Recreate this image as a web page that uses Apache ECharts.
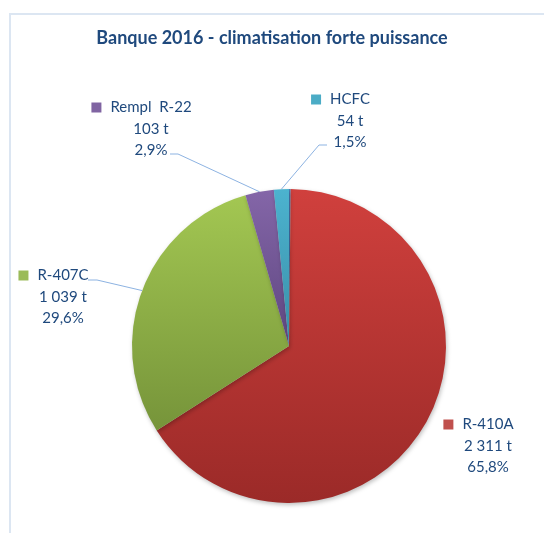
<!DOCTYPE html>
<html>
<head>
<meta charset="utf-8">
<script src="https://cdn.jsdelivr.net/npm/echarts@6/dist/echarts.min.js"></script>
<style>
  html, body { margin: 0; padding: 0; background: #fff; }
  #chart { width: 544px; height: 533px; }
</style>
</head>
<body>
<div id="chart"></div>
<script>
// data (tonnes); first item is the tiny unlabeled sliver
const categories = ["Autre", "R-410A", "R-407C", "Rempl  R-22", "HCFC"];
const tonnes = [6, 2311, 1039, 103, 54];
const showLabel = [false, true, true, true, true];

// Excel-like gradient colours (top, bottom) and key colour
const topColors = ["#4f81bd", "#d0403d", "#a3c752", "#8466a8", "#4cb3cf"];
const bottomColors = ["#3a659a", "#9b2a28", "#76943a", "#5e4680", "#3a8ea8"];
const keyColors = ["#4f81bd", "#c0504d", "#9bbb59", "#8064a2", "#4bacc6"];

// label placement (text centre, middle line) and leader line bend/end
const labelSpots = [
    null,
    { x: 488, y: 446, line: null },
    { x: 63, y: 297, line: [[97, 280], [88, 280]] },
    { x: 151, y: 129, line: [[178, 154], [170, 154]] },
    { x: 350, y: 121, line: [[319, 145], [327, 145]] },
];

const textColor = "#1f497d";
const fontFamily = "Lato, 'Liberation Sans', sans-serif";

const fmtTonnes = (v) =>
    v.toString().replace(/\B(?=(\d{3})+(?!\d))/g, " ") + " t";

// key square + gap on the left, balanced by the same width on the right
const richFor = (color) => ({
    k: { width: 10, height: 10, backgroundColor: color, lineHeight: 21.5 },
    g: { width: 9, lineHeight: 21.5 },
    s: { width: 10, lineHeight: 21.5 },
    n: {
        color: textColor,
        fontFamily: fontFamily,
        fontSize: 15,
        lineHeight: 21.5,
    },
});

const seriesData = categories.map((name, i) => ({
    name: name,
    value: tonnes[i],
    itemStyle: {
        color: new echarts.graphic.LinearGradient(0, 0, 0, 1, [
            { offset: 0, color: topColors[i] },
            { offset: 1, color: bottomColors[i] },
        ]),
    },
    label: {
        show: showLabel[i],
        rich: richFor(keyColors[i]),
    },
    labelLine: {
        show: showLabel[i] && labelSpots[i] && labelSpots[i].line !== null,
    },
}));

const chart = echarts.init(document.getElementById("chart"));

const option = {
    backgroundColor: "#ffffff",
    animation: false,
    title: {
        text: "Banque 2016 - climatisation forte puissance",
        left: "center",
        top: 29,
        padding: 0,
        textStyle: {
            color: textColor,
            fontFamily: fontFamily,
            fontWeight: "bold",
            fontSize: 18,
        },
    },
    graphic: [
        {
            type: "rect",
            silent: true,
            shape: { x: 10, y: 14, width: 600, height: 600 },
            style: { fill: "none", stroke: "#dce6f2", lineWidth: 2 },
        },
    ],
    series: [
        {
            type: "pie",
            center: [289, 346],
            radius: 157,
            startAngle: 90,
            clockwise: true,
            percentPrecision: 1,
            avoidLabelOverlap: false,
            itemStyle: {
                borderWidth: 0,
                shadowBlur: 4,
                shadowOffsetX: 1,
                shadowOffsetY: 2,
                shadowColor: "rgba(0,0,0,0.25)",
            },
            label: {
                position: "outside",
                color: textColor,
                fontFamily: fontFamily,
                fontSize: 15,
                lineHeight: 21.5,
                align: "center",
                formatter: (p) =>
                    "{k|}{g|}{n|" + p.name + "}{g|}{s|}\n" +
                    fmtTonnes(p.value) + "\n" +
                    p.percent.toFixed(1).replace(".", ",") + "%",
            },
            labelLine: {
                lineStyle: { color: "#8db3e2", width: 1 },
            },
            labelLayout: (params) => {
                const spot = labelSpots[params.dataIndex];
                if (!spot) return {};
                const out = {
                    x: spot.x,
                    y: spot.y,
                    align: "center",
                    verticalAlign: "middle",
                };
                if (spot.line && params.labelLinePoints) {
                    out.labelLinePoints = [
                        params.labelLinePoints[0],
                        spot.line[0],
                        spot.line[1],
                    ];
                }
                return out;
            },
            emphasis: { disabled: true },
            data: seriesData,
        },
    ],
};

chart.setOption(option);
</script>
</body>
</html>
